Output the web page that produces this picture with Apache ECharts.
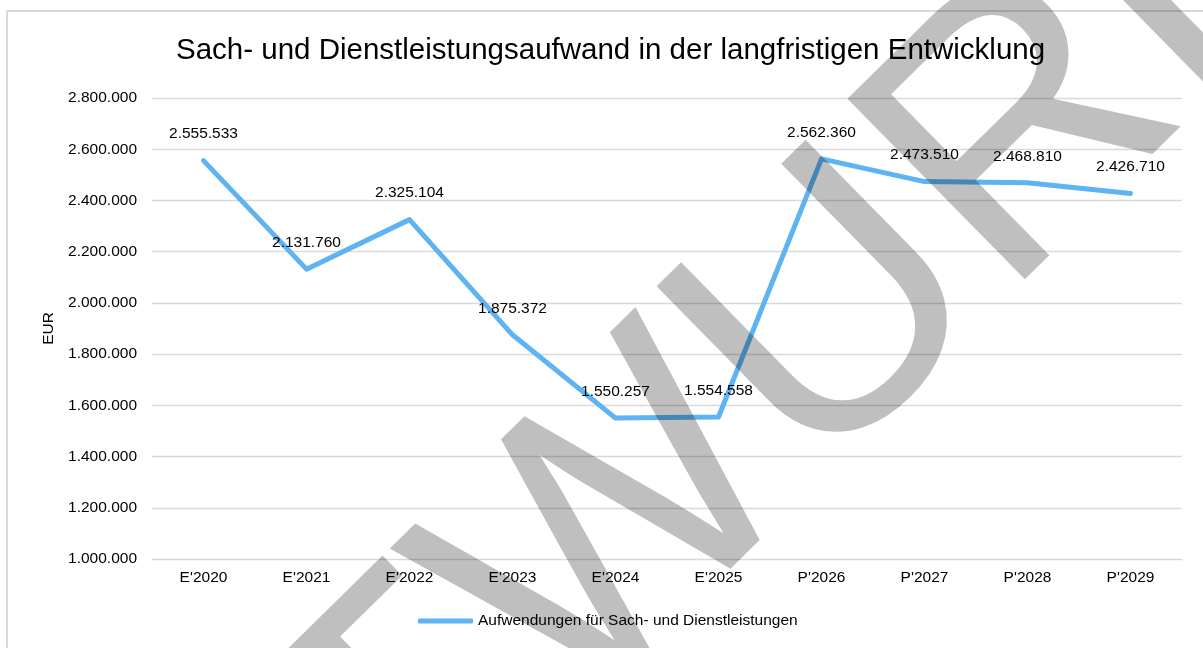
<!DOCTYPE html>
<html>
<head>
<meta charset="utf-8">
<script src="https://cdn.jsdelivr.net/npm/echarts@6/dist/echarts.min.js"></script>
<style>
  html, body { margin: 0; padding: 0; background: #fff; }
  #chart { width: 1203px; height: 648px; }
</style>
</head>
<body>
<div id="chart"></div>
<script>
var categories = ["E'2020", "E'2021", "E'2022", "E'2023", "E'2024", "E'2025", "P'2026", "P'2027", "P'2028", "P'2029"];
var values = [2555533, 2131760, 2325104, 1875372, 1550257, 1554558, 2562360, 2473510, 2468810, 2426710];
var seriesName = 'Aufwendungen für Sach- und Dienstleistungen';
var yMin = 1000000, yMax = 2800000, yStep = 200000;

var font = 'Liberation Sans, Arial, sans-serif';

function fmt(n) {
  return String(Math.round(n)).replace(/\B(?=(\d{3})+(?!\d))/g, '.');
}

var chart = echarts.init(document.getElementById('chart'));
chart.setOption({
  backgroundColor: '#fff',
  animation: false,
  textStyle: { fontFamily: font },
  title: {
    text: 'Sach- und Dienstleistungsaufwand in der langfristigen Entwicklung',
    left: 176, top: 36, padding: 0,
    textStyle: { color: '#000', fontSize: 29.5, fontWeight: 'normal', fontFamily: font }
  },
  legend: {
    left: 418, top: 613, padding: 0,
    itemWidth: 55, itemHeight: 5, icon: 'roundRect',
    textStyle: { color: '#000', fontSize: 15.5, fontFamily: font },
    data: [seriesName]
  },
  grid: { left: 152, right: 21, top: 98, bottom: 89, containLabel: false },
  xAxis: {
    type: 'category', data: categories, boundaryGap: true,
    axisLine: { lineStyle: { color: '#d9d9d9' } },
    axisTick: { show: false },
    axisLabel: { color: '#000', fontSize: 15.5, margin: 11, fontFamily: font }
  },
  yAxis: {
    type: 'value', min: yMin, max: yMax, interval: yStep,
    name: 'EUR', nameLocation: 'middle', nameGap: 95, nameRotate: 90,
    nameTextStyle: { color: '#000', fontSize: 15.5, fontFamily: font },
    axisLine: { show: false }, axisTick: { show: false },
    axisLabel: { color: '#000', fontSize: 15.5, margin: 15, fontFamily: font, formatter: fmt },
    splitLine: { lineStyle: { color: '#d9d9d9', width: 1.3 } }
  },
  series: [{
    name: seriesName, type: 'line', data: values,
    symbol: 'circle', symbolSize: 1,
    itemStyle: { color: '#5eb3f2' },
    lineStyle: { color: '#5eb3f2', width: 5, cap: 'round', join: 'round' },
    label: { show: true, position: 'top', distance: 18, color: '#000', fontSize: 15.5, fontFamily: font,
      formatter: function(p) { return fmt(p.value); } }
  }],
  graphic: [
    { type: 'rect', z: -1, silent: true, shape: { x: 7, y: 11, width: 1300, height: 800 },
      style: { fill: 'none', stroke: '#d9d9d9', lineWidth: 2 } },
    // Wasserzeichen "ENTWURF"
    { type: 'text', z: 100, silent: true, x: 626, y: 529, rotation: 44.5 * Math.PI / 180,
      style: { text: 'ENTWURF', fontSize: 368, fontFamily: font, fill: 'rgba(0,0,0,0.25)', align: 'center', verticalAlign: 'middle' } }
  ]
});
</script>
</body>
</html>
